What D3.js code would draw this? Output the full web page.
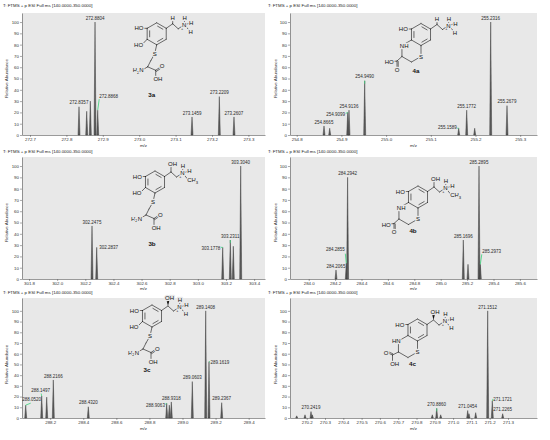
<!DOCTYPE html>
<html><head><meta charset="utf-8">
<script src="https://cdn.jsdelivr.net/npm/d3@7"></script>
<style>body{margin:0;background:#fff}svg{display:block}text{font-family:"Liberation Sans",Arial,sans-serif}</style>
</head><body><svg id="c" width="550" height="440"></svg>
<script>
const title = "T: FTMS + p ESI Full ms [140.0000-350.0000]";
const yTicks = [0,10,20,30,40,50,60,70,80,90,100];

// ---- 3a ----
const dom3a = [272.678, 273.3456];
const ticks3a = [272.7, 272.8, 272.9, 273.0, 273.1, 273.2, 273.3];
const mz3a = [272.8346, 272.8558, 272.8657, 272.8786, 272.8860, 273.1451, 273.2201, 273.2604];
const int3a = [25, 21, 30, 100, 22, 16, 34, 16];
const lab3a = ["272.8357", "", "", "272.8804", "272.8868", "273.1459", "273.2209", "273.2607"];
// ---- 4a ----
const dom4a = [254.785, 255.3376];
const ticks4a = [254.8, 254.9, 255.0, 255.1, 255.2, 255.3];
const mz4a = [254.8611, 254.8738, 254.9141, 254.9170, 254.9521, 255.1624, 255.1803, 255.1982, 255.2340, 255.2705];
const int4a = [8, 6, 20, 22, 48, 6, 22, 6, 100, 26];
const lab4a = ["254.8665", "", "254.9099", "254.9136", "254.9490", "255.1589", "255.1772", "", "255.2316", "255.2679"];
// ---- 3b ----
const dom3b = [301.7502, 303.4773];
const ticks3b = [301.8, 302.0, 302.2, 302.4, 302.6, 302.8, 303.0, 303.2, 303.4];
const mz3b = [302.2478, 302.2812, 303.1767, 303.2307, 303.2520, 303.3046];
const int3b = [47, 28, 28, 34.5, 29, 100];
const lab3b = ["302.2475", "302.2837", "303.1778", "303.2311", "", "303.3040"];
// ---- 4b ----
const dom4b = [283.8583, 285.7295];
const ticks4b = [284.0, 284.2, 284.4, 284.6, 284.8, 285.0, 285.2, 285.4, 285.6];
const mz4b = [284.2068, 284.2848, 284.2947, 285.1712, 285.2068, 285.2902, 285.3000];
const int4b = [8, 14, 90, 34.5, 13, 100, 13];
const lab4b = ["284.2065", "284.2855", "284.2942", "285.1696", "", "285.2895", "285.2973"];
// ---- 3c ----
const dom3c = [288.0296, 289.4988];
const ticks3c = [288.2, 288.4, 288.6, 288.8, 289.0, 289.2, 289.4];
const mz3c = [288.0520, 288.1487, 288.1790, 288.2189, 288.4305, 288.9045, 288.9202, 288.9323, 289.0593, 289.1403, 289.1602, 289.2370];
const int3c = [12, 20.5, 19.5, 35.5, 10.5, 13.7, 12, 15, 34, 100, 52.6, 14.3];
const lab3c = ["288.0520", "288.1497", "", "288.2166", "288.4320", "288.9063", "", "288.9318", "289.0603", "289.1408", "289.1619", "289.2367"];
// ---- 4c ----
const dom4c = [270.1087, 271.4585];
const ticks4c = [270.2, 270.3, 270.4, 270.5, 270.6, 270.7, 270.8, 270.9, 271.0, 271.1, 271.2, 271.3];
const mz4c = [270.1454, 270.1907, 270.2235, 270.2306, 270.8863, 270.9104, 270.9322, 271.0798, 271.0869, 271.1235, 271.1891, 271.2142, 271.2710];
const int4c = [2, 3, 6, 3, 3, 9, 3, 7, 4, 5, 100, 16, 4];
const lab4c = ["", "", "270.2419", "", "", "270.8860", "", "271.0454", "", "", "271.1512", "271.1721", "271.2265"];

// label placement (offset from peak top: dx, dy, anchor, [green leader dx, dy])
const C = [0, -2.3, "middle"];
const lay3a = [C, null, null, C, [1.6, -12.6, "start", 1.5, -11], C, C, C];
const lay4a = [C, null, [-2.7, 3.5, "end", -2, 1], C, [0, -2.3, "middle", 0, 3], [-2, 0.5, "end", -1.5, 0], C, null, C, C];
const lay3b = [C, [2.6, 1.5, "start"], [-2.5, 3, "end", -2, 0], [0, -2.3, "middle", 0, 3], null, C];
const lay4b = [C, [-1.5, -11.7, "end", -1, -9.5], C, C, null, C, [2, -11.8, "start", 1.5, -10]];
const lay3c = [[6, -3.7, "middle", 5, -2], [-1, -3.6, "middle", -0.5, -2.5], null, C, C, [-1.8, 4, "end", -1.5, 1], null, C, C, C, [1.5, 2.5, "start", 1.2, 0.5], C];
const lay4c = [null, null, C, null, null, [0, -2.3, "middle", 0, 3], null, C, null, null, C, [1, 0, "start", 0.8, -2], C];

const GRAY = "#e8e8e8", GREEN = "#3ad37a", FONT = "Liberation Sans, Arial, sans-serif";
const cols = [{x0: 22, x1: 265, titleX: 3, ylabX: 7.5}, {x0: 290, x1: 537, titleX: 268, ylabX: 277}];
const rows = [{top: 13, base: 135, ymax: 108, titleY: 7.3, mzDy: 11.5},
              {top: 157, base: 279, ymax: 108, titleY: 152.5, mzDy: 11.2},
              {top: 298, base: 418, ymax: 112, titleY: 294.3, mzDy: 12}];
const panels = [
  {col: 0, row: 0, dom: dom3a, ticks: ticks3a, mz: mz3a, it: int3a, lab: lab3a, lay: lay3a},
  {col: 1, row: 0, dom: dom4a, ticks: ticks4a, mz: mz4a, it: int4a, lab: lab4a, lay: lay4a},
  {col: 0, row: 1, dom: dom3b, ticks: ticks3b, mz: mz3b, it: int3b, lab: lab3b, lay: lay3b},
  {col: 1, row: 1, dom: dom4b, ticks: ticks4b, mz: mz4b, it: int4b, lab: lab4b, lay: lay4b},
  {col: 0, row: 2, dom: dom3c, ticks: ticks3c, mz: mz3c, it: int3c, lab: lab3c, lay: lay3c},
  {col: 1, row: 2, dom: dom4c, ticks: ticks4c, mz: mz4c, it: int4c, lab: lab4c, lay: lay4c}
];

const svg = d3.select("#c");
svg.append("rect").attr("width", 550).attr("height", 440).attr("fill", "#fff");

panels.forEach(p => {
  const c = cols[p.col], r = rows[p.row];
  const x = d3.scaleLinear().domain(p.dom).range([c.x0, c.x1]);
  const y = d3.scaleLinear().domain([0, r.ymax]).range([r.base, r.top]);
  const g = svg.append("g");
  g.append("rect").attr("x", c.x0).attr("y", r.top).attr("width", c.x1 - c.x0).attr("height", r.base - r.top).attr("fill", GRAY);
  svg.append("text").attr("x", c.titleX).attr("y", r.titleY).attr("font-size", 4.4).attr("fill", "#222").text(title);

  const ax = g.append("g").attr("transform", `translate(0,${r.base})`)
    .call(d3.axisBottom(x).tickValues(p.ticks).tickFormat(d3.format(".1f")).tickSize(2).tickSizeOuter(0).tickPadding(1.2));
  const ay = g.append("g").attr("transform", `translate(${c.x0},0)`)
    .call(d3.axisLeft(y).tickValues(yTicks).tickSize(2).tickSizeOuter(0).tickPadding(1));
  [ax, ay].forEach(a => {
    a.attr("font-size", 4.4).attr("font-family", FONT);
    a.select(".domain").attr("stroke", "#555").attr("stroke-width", 0.6);
    a.selectAll(".tick line").attr("stroke", "#555").attr("stroke-width", 0.5);
    a.selectAll(".tick text").attr("fill", "#333");
  });
  g.append("text").attr("x", (c.x0 + c.x1) / 2).attr("y", r.base + r.mzDy).attr("text-anchor", "middle")
    .attr("font-size", 4.4).attr("fill", "#333").text("m/z");
  const ym = (y(0) + y(100)) / 2;
  g.append("text").attr("transform", `translate(${c.ylabX},${ym}) rotate(-90)`).attr("text-anchor", "middle")
    .attr("font-size", 4.4).attr("fill", "#333").text("Relative Abundance");

  const data = p.mz.map((m, i) => ({m, v: p.it[i], lab: p.lab[i], lay: p.lay[i]}));
  const w = 1.0;
  g.selectAll("path.pk").data(data).join("path").attr("class", "pk")
    .attr("d", d => `M${x(d.m) - w},${y(0)}L${x(d.m)},${y(d.v)}L${x(d.m) + w},${y(0)}Z`)
    .attr("fill", "#5c5c5c").attr("stroke", "#333").attr("stroke-width", 0.45);
  data.filter(d => d.lab && d.lay).forEach(d => {
    const px = x(d.m), py = y(d.v), L = d.lay;
    if (L.length > 3) {
      g.append("line").attr("x1", px).attr("y1", py).attr("x2", px + L[3]).attr("y2", py + L[4])
        .attr("stroke", GREEN).attr("stroke-width", 0.8);
    }
    g.append("text").attr("x", px + L[0]).attr("y", py + L[1]).attr("text-anchor", L[2])
      .attr("font-size", 4.5).attr("fill", "#2a2a2a").text(d.lab);
  });
});

// ---------- chemical structures (decorative) ----------
function struct(cx, cy, o) {
  const g = svg.append("g").attr("transform", `translate(${cx},${cy})`);
  const r = 11, a = 9.53;
  const V = [[0, -r], [a, -r / 2], [a, r / 2], [0, r], [-a, r / 2], [-a, -r / 2]];
  const L = [], T = [];
  for (let i = 0; i < 6; i++) L.push([V[i], V[(i + 1) % 6]]);
  [[0, 1], [2, 3], [4, 5]].forEach(([i, j]) => {
    const k = 0.74, P = V[i].map(v => v * k), Q = V[j].map(v => v * k);
    L.push([[P[0] + (Q[0] - P[0]) * 0.13, P[1] + (Q[1] - P[1]) * 0.13], [P[0] + (Q[0] - P[0]) * 0.87, P[1] + (Q[1] - P[1]) * 0.87]]);
  });
  L.push([V[5], [-13.5, -5.5]]); T.push([-13.2, -5.5, "HO", "end"]);
  if (o.series === 3) {
    L.push([V[4], [-13, 9]]); T.push([-13.6, 11, "HO", "end"]);
    L.push([V[3], [-2, 20]]); T.push([-2, 20, "S", "middle"]);
    L.push([[-2, 20], [-6, 27]]); L.push([[-6, 27], [-9, 33]]);
    L.push([[-9, 33], [-14, 36]]); T.push([-13, 36.5, "H2N", "end"]);
    L.push([[-9, 33], [-1, 36.5]]);
    L.push([[-1, 36.5], [4, 33]]); L.push([[-0.3, 37.6], [4.7, 34.1]]); T.push([5.3, 32.5, "O", "middle"]);
    L.push([[-1, 36.5], [-1, 43]]); T.push([-3.3, 45.5, "OH", "start"]);
  } else {
    const W2 = [0, 22], W3 = [-a, 27.5], W4 = [-2 * a, 22], W5 = [-2 * a, 11];
    L.push([V[3], W2], [W2, W3], [W3, W4], [W4, W5], [W5, V[4]]);
    T.push([W2[0], W2[1], "S", "middle"]);
    if (o.hn) T.push([-16.9, 11, "HN", "end"]); else T.push([-21.2, 11, "NH", "start"]);
    if (o.acid === 1) {
      const Cc = [-24, 26.5];
      L.push([W4, Cc]); L.push([Cc, [-27.5, 27]]); T.push([-27.3, 27.5, "HO", "end"]);
      L.push([Cc, [-24, 32]]); L.push([[-22.8, 27], [-22.8, 32]]); T.push([-24, 35, "O", "middle"]);
    } else {
      const Cc = [-25, 25];
      L.push([W4, Cc]); L.push([Cc, [-29.5, 23]]); L.push([[-24.6, 23.8], [-29.1, 21.8]]); T.push([-31.5, 22.5, "O", "middle"]);
      L.push([Cc, [-25, 31]]); T.push([-27.3, 34, "OH", "start"]);
    }
  }
  const Q1 = [16, -10], Q2 = [21.5, -5], N = [27.5, -9];
  L.push([V[1], Q1], [Q1, Q2], [Q2, N]);
  if (o.benz === "H") { L.push([Q1, [16, -14]]); T.push([16, -16, "H", "middle"]); }
  else if (o.benz === "OH") { L.push([Q1, [16, -15]]); T.push([17.5, -18.3, "OH", "middle"]); }
  else {
    g.append("path").attr("d", `M${Q1[0]},${Q1[1]}L14.6,-15.5L17.4,-15.5Z`).attr("fill", "#111");
    T.push([17.5, -18.3, "OH", "middle"]);
  }
  T.push([N[0], N[1], "N", "middle"]);
  L.push([N, [28, -16]]); T.push([28, -16, "H", "middle"]);
  L.push([N, [34.5, -11]]); T.push([34.5, -11, "H", "middle"]);
  if (o.me) { L.push([N, [33, -2.5]]); T.push([32.2, -2, "CH3", "start"]); }
  else { L.push([N, [34, -2]]); T.push([34, -2, "H", "middle"]); }

  g.selectAll("line").data(L).join("line")
    .attr("x1", d => d[0][0]).attr("y1", d => d[0][1]).attr("x2", d => d[1][0]).attr("y2", d => d[1][1])
    .attr("stroke", "#111").attr("stroke-width", 0.6).attr("stroke-linecap", "round");
  T.forEach(t => {
    const el = g.append("text").attr("x", t[0]).attr("y", t[1]).attr("dy", "0.36em").attr("text-anchor", t[3])
      .attr("font-size", 6).attr("fill", "#111")
      .attr("stroke", GRAY).attr("stroke-width", 2.4).attr("paint-order", "stroke").attr("stroke-linejoin", "round");
    const m = t[2].match(/^([A-Z]+)(\d)([A-Z]*)$/);
    if (m) {
      el.append("tspan").text(m[1]);
      el.append("tspan").attr("font-size", 4.2).attr("dy", 1.4).text(m[2]);
      if (m[3]) el.append("tspan").attr("dy", -1.4).text(m[3]);
    } else el.text(t[2]);
  });
  g.append("text").attr("x", 25.3).attr("y", -4.3).attr("font-size", 3.8).attr("text-anchor", "middle").attr("fill", "#111").text("+");
  g.append("text").attr("x", o.lab[0]).attr("y", o.lab[1]).attr("dy", "0.36em").attr("text-anchor", "middle")
    .attr("font-size", 6.2).attr("font-weight", "bold").attr("fill", "#111").text(o.name);
}

struct(156.7, 33.8, {series: 3, benz: "H", me: false, name: "3a", lab: [-5, 60.5]});
struct(155, 182, {series: 3, benz: "OH", me: true, name: "3b", lab: [-3, 62]});
struct(152, 316, {series: 3, benz: "OHw", me: false, name: "3c", lab: [-5, 54]});
struct(421, 34.5, {series: 4, benz: "H", me: false, acid: 1, name: "4a", lab: [-5, 36.5]});
struct(418, 197, {series: 4, benz: "OH", me: true, acid: 1, name: "4b", lab: [-5, 34]});
struct(417.5, 330, {series: 4, benz: "OHw", me: false, acid: 2, hn: true, name: "4c", lab: [-5, 34]});
</script></body></html>
